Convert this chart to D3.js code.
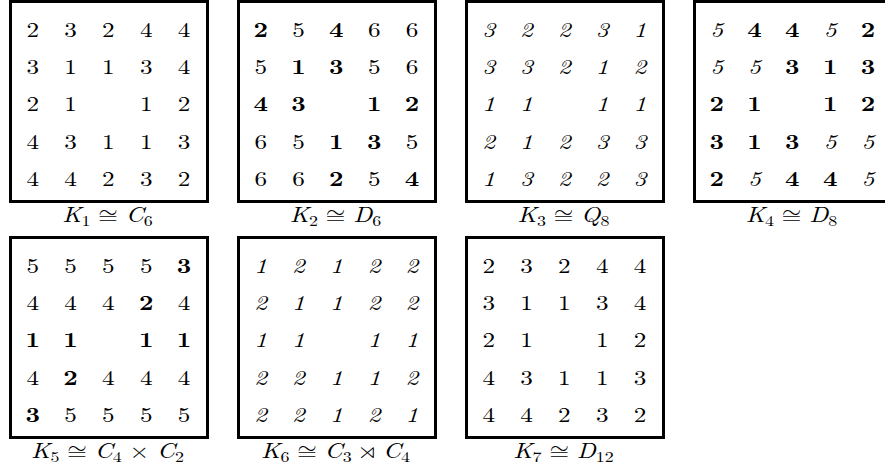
<!DOCTYPE html>
<html>
<head>
<meta charset="utf-8">
<script src="https://cdn.jsdelivr.net/npm/d3@7"></script>
<style>
  html, body { margin: 0; padding: 0; background: #fff; }
  svg { display: block; }
</style>
</head>
<body>
<svg id="chart" width="885" height="470"></svg>
<script>
// ---- Data -----------------------------------------------------------
// Grid values (null = empty centre cell)
const gridK1 = [[2,3,2,4,4],[3,1,1,3,4],[2,1,null,1,2],[4,3,1,1,3],[4,4,2,3,2]];
const gridK2 = [[2,5,4,6,6],[5,1,3,5,6],[4,3,null,1,2],[6,5,1,3,5],[6,6,2,5,4]];
const gridK3 = [[3,2,2,3,1],[3,3,2,1,2],[1,1,null,1,1],[2,1,2,3,3],[1,3,2,2,3]];
const gridK4 = [[5,4,4,5,2],[5,5,3,1,3],[2,1,null,1,2],[3,1,3,5,5],[2,5,4,4,5]];
const gridK5 = [[5,5,5,5,3],[4,4,4,2,4],[1,1,null,1,1],[4,2,4,4,4],[3,5,5,5,5]];
const gridK6 = [[1,2,1,2,2],[2,1,1,2,2],[1,1,null,1,1],[2,2,1,1,2],[2,2,1,2,1]];
const gridK7 = [[2,3,2,4,4],[3,1,1,3,4],[2,1,null,1,2],[4,3,1,1,3],[4,4,2,3,2]];

// Entry type per cell: 0 = plain, 1 = bold, 2 = italic
const typeK1 = [[0,0,0,0,0],[0,0,0,0,0],[0,0,0,0,0],[0,0,0,0,0],[0,0,0,0,0]];
const typeK2 = [[1,0,1,0,0],[0,1,1,0,0],[1,1,0,1,1],[0,0,1,1,0],[0,0,1,0,1]];
const typeK3 = [[2,2,2,2,2],[2,2,2,2,2],[2,2,0,2,2],[2,2,2,2,2],[2,2,2,2,2]];
const typeK4 = [[2,1,1,2,1],[2,2,1,1,1],[1,1,0,1,1],[1,1,1,2,2],[1,2,1,1,2]];
const typeK5 = [[0,0,0,0,1],[0,0,0,1,0],[1,1,0,1,1],[0,1,0,0,0],[1,0,0,0,0]];
const typeK6 = [[2,2,2,2,2],[2,2,2,2,2],[2,2,0,2,2],[2,2,2,2,2],[2,2,2,2,2]];
const typeK7 = [[0,0,0,0,0],[0,0,0,0,0],[0,0,0,0,0],[0,0,0,0,0],[0,0,0,0,0]];

const kernelNames = ["K_1","K_2","K_3","K_4","K_5","K_6","K_7"];
const groupNames  = ["C_6","D_6","Q_8","D_8","C_4 × C_2","C_3 ⋊ C_4","D_{12}"];

const grids = [gridK1,gridK2,gridK3,gridK4,gridK5,gridK6,gridK7];
const types = [typeK1,typeK2,typeK3,typeK4,typeK5,typeK6,typeK7];

// ---- Layout ---------------------------------------------------------
const svg = d3.select("#chart");
const FONT = '"Latin Modern Roman", "CMU Serif", "Liberation Serif", serif';
const MATH = '"Latin Modern Math", "Latin Modern Roman", "DejaVu Serif", serif';
const perRow = 4;
const boxW = 200, boxH = 203, stroke = 3;
const sx = 1.2;                       // horizontal stretch of the reference typesetting
const capSize = 21, subSize = 15, subDrop = 4;
const relGap = 6.5, binGap = 6.5;

const panelX = d3.scaleLinear().domain([0, 3]).range([9, 9 + 3 * 228]);
const panelY = d3.scaleLinear().domain([0, 1]).range([0, 236]);
const colX = d3.scalePoint().domain(d3.range(5)).range([23.7, 175]);
const rowY = d3.scalePoint().domain(d3.range(5)).range([36.5, 186]);

const panels = svg.selectAll("g.panel")
  .data(grids.map((g, i) => ({ i, grid: g, type: types[i] })))
  .join("g")
  .attr("class", "panel")
  .attr("transform", d => `translate(${panelX(d.i % perRow)},${panelY(Math.floor(d.i / perRow))})`);

panels.append("rect")
  .attr("x", stroke / 2).attr("y", stroke / 2)
  .attr("width", boxW - stroke).attr("height", boxH - stroke)
  .attr("fill", "none").attr("stroke", "#000").attr("stroke-width", stroke);

panels.selectAll("text.cell")
  .data(d => d.grid.flatMap((row, r) => row.map((v, c) => ({ r, c, v, t: d.type[r][c] })))
                   .filter(e => e.v !== null))
  .join("text")
  .attr("class", "cell")
  .attr("transform", e => `translate(${colX(e.c)},${rowY(e.r)}) scale(${sx},1)`)
  .attr("text-anchor", "middle")
  .style("font-family", FONT)
  .attr("font-size", 21)
  .attr("font-weight", e => e.t === 1 ? "bold" : "normal")
  .attr("font-style", e => e.t === 2 ? "italic" : "normal")
  .attr("fill", "#000")
  .text(e => e.v);

// Mini-TeX: letters italic, "_x" / "_{xx}" subscript, ≅ relation, × ⋊ binary ops
function parseTex(s) {
  const out = [];
  let i = 0;
  while (i < s.length) {
    const ch = s[i];
    if (ch === "_") {
      let sub;
      if (s[i + 1] === "{") { const j = s.indexOf("}", i); sub = s.slice(i + 2, j); i = j + 1; }
      else { sub = s[i + 1]; i += 2; }
      out.push({ t: sub, sub: true });
    } else if (/[A-Za-z]/.test(ch)) {
      out.push({ t: ch, it: true }); i++;
    } else if (ch === " ") {
      i++;
    } else {
      out.push({ t: ch, op: ch === "≅" ? "rel" : "bin" }); i++;
    }
  }
  return out;
}

const captions = panels.append("text")
  .attr("transform", `translate(${boxW / 2 - 1.5},221.5) scale(${sx},1)`)
  .attr("x", 0)
  .attr("y", 0)
  .style("font-family", FONT)
  .attr("font-size", capSize)
  .attr("fill", "#000");

captions.each(function (d) {
  const segs = parseTex(kernelNames[d.i] + " ≅ " + groupNames[d.i]);
  const t = d3.select(this);
  let inSub = false, pendingGap = 0, dxSum = 0;
  segs.forEach(s => {
    const ts = t.append("tspan").text(s.t);
    let dx = pendingGap, dy = 0;
    pendingGap = 0;
    if (s.it) ts.attr("font-style", "italic");
    if (s.op) {
      const g = s.op === "rel" ? relGap : binGap;
      dx += g; pendingGap = g;
      ts.style("font-family", MATH);
    }
    if (s.sub) {
      ts.attr("font-size", subSize);
      if (!inSub) dy = subDrop;
      inSub = true;
    } else if (inSub) {
      dy = -subDrop;
      inSub = false;
    }
    if (dx) ts.attr("dx", dx);
    if (dy) ts.attr("dy", dy);
    dxSum += dx;
  });
  let total = dxSum;
  this.querySelectorAll("tspan").forEach(n => { total += n.getComputedTextLength(); });
  d3.select(this).attr("x", -total / 2);
});
</script>
</body>
</html>
